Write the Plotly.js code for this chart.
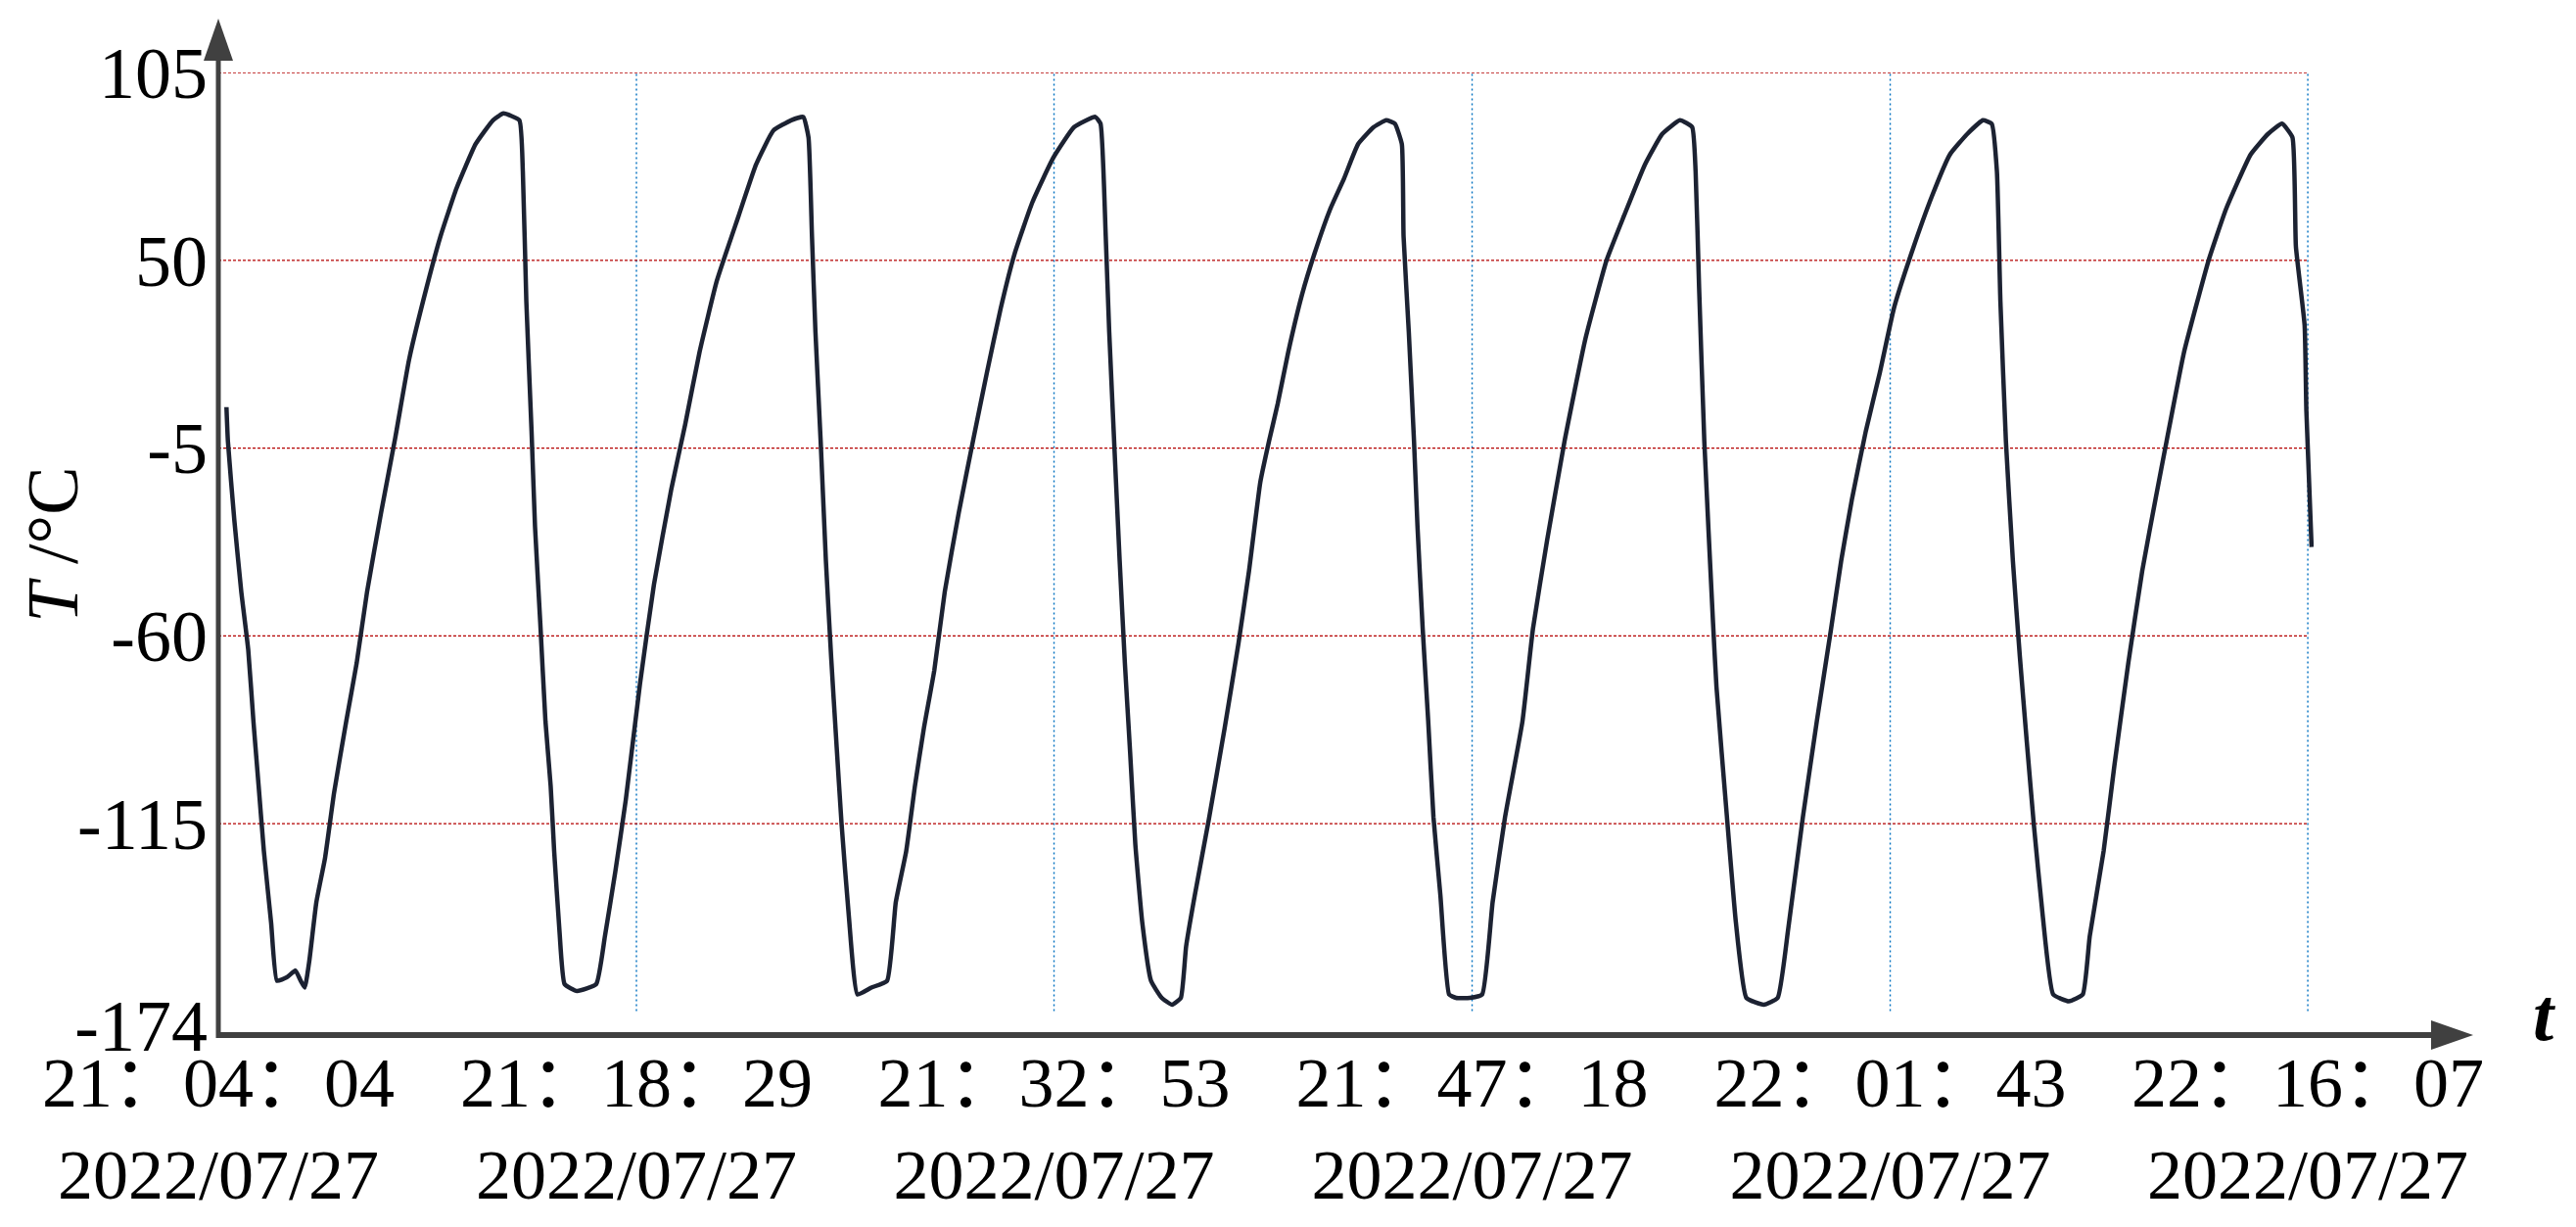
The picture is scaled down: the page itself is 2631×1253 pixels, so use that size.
<!DOCTYPE html>
<html>
<head>
<meta charset="utf-8">
<script src="https://cdn.plot.ly/plotly-3.0.1.min.js"></script>
<style>
  html, body { margin: 0; padding: 0; background: #fff; }
  #chart { width: 2631px; height: 1253px; }
</style>
</head>
<body>
<div id="chart"></div>
<script>
// Temperature record, minutes after 21:04:04 on 2022/07/27
const tMin = [
  0.28, 0.33, 0.55, 0.79, 1.03, 1.21, 1.39, 1.57, 1.82, 2.02,
  2.36, 2.66, 2.84, 2.98, 3.14, 3.38, 3.68, 3.99, 4.41, 4.77,
  5.13, 5.61, 6.10, 6.58, 7.18, 7.66, 8.21, 8.87, 9.47, 9.83,
  10.38, 10.50, 10.62, 10.80, 10.92, 11.10, 11.28, 11.46, 11.58, 11.76,
  11.94, 12.37, 13.03, 13.33, 13.69, 14.05, 14.54, 15.02, 15.62, 16.10,
  16.59, 17.19,
  17.94, 18.54, 19.14, 19.75, 20.17, 20.35, 20.47, 20.59, 20.77, 20.95,
  21.13, 21.31, 21.49, 21.74, 22.04, 22.52, 23.06, 23.36, 23.72, 24.02,
  24.33, 24.69, 25.05, 25.53, 26.02, 26.50, 26.98, 27.46, 28.07, 28.79,
  29.51, 30.24, 30.42, 30.60, 30.72, 30.90, 31.08, 31.26, 31.44, 31.62,
  31.86, 32.16, 32.53, 32.89, 33.19, 33.37, 33.67, 34.15, 34.70, 35.18,
  35.54,
  35.93, 36.23, 36.53, 36.89, 37.37, 37.80, 38.34, 38.82, 39.30, 39.84,
  40.27, 40.57, 40.81, 40.87, 41.05, 41.23, 41.35, 41.53, 41.72, 41.90,
  42.14, 42.44, 42.68, 43.16, 43.58, 43.94, 44.37, 44.97, 45.33, 45.82,
  46.42, 47.14, 47.87, 48.47, 49.19, 49.79, 50.40, 50.82, 50.94, 51.06,
  51.24, 51.54, 51.66, 52.02, 52.33, 52.69, 53.29, 53.77, 54.13,
  54.64, 55.12, 55.61, 55.96, 56.33, 56.81, 57.29, 57.78, 58.38, 59.10,
  59.71, 60.31, 60.85, 61.15, 61.33, 61.45, 61.64, 61.88, 62.12, 62.36,
  62.60, 62.91, 63.27, 63.81, 64.29, 64.53, 65.01, 65.38, 65.86, 66.34,
  66.82, 67.18, 67.78, 68.63, 69.23, 70.08, 70.68, 71.16, 71.52, 71.64,
  71.94, 72.00, 72.18
];
const tempC = [
  7, -3, -26, -47, -64, -85, -104, -123, -144, -161,
  -160, -158, -161, -163, -155, -138, -125, -106, -85, -68,
  -47, -24, -2, 21, 42, 57, 71, 84, 91, 93,
  91, 76, 38, 0, -28, -56, -85, -104, -123, -146,
  -162, -164, -162, -148, -129, -108, -74, -45, -17, 2,
  23, 44,
  63, 78, 88, 91, 92, 86, 57, 29, -3, -38,
  -66, -91, -115, -142, -165, -163, -161, -138, -123, -104,
  -87, -70, -47, -24, -3, 17, 36, 52, 67, 80,
  89, 92, 90, 57, 29, -5, -38, -68, -94, -121,
  -144, -161, -166, -168, -166, -151, -136, -114, -87, -62,
  -41,
  -15, -3, 8, 23, 40, 52, 65, 74, 84, 89,
  91, 90, 84, 57, 29, -3, -28, -58, -85, -113,
  -136, -165, -166, -166, -165, -138, -113, -85, -58, -32,
  -3, 27, 50, 63, 78, 87, 91, 89, 76, 42,
  -3, -56, -75, -113, -144, -166, -168, -166, -146,
  -113, -85, -58, -38, -20, 0, 17, 36, 52, 69,
  81, 87, 91, 90, 76, 38, -3, -38, -66, -91,
  -115, -142, -165, -167, -165, -148, -123, -98, -68, -41,
  -19, -3, 23, 50, 65, 81, 87, 90, 86, 54,
  31, 6, -34
];

const tickTimes = ['21:04:04', '21:18:29', '21:32:53', '21:47:18', '22:01:43', '22:16:07'];
const tickDate = '2022/07/27';
const yTicks = [105, 50, -5, -60, -115, -174];

const FONT_FAMILY = '"Liberation Serif", "Times New Roman", "Noto Sans CJK SC", serif';
const W = 2631, H = 1253;
const MARGIN = {l: 223, r: 268, t: 74, b: 196, pad: 0};
const AXIS_COLOR = '#404040';

function toMin(s) {
  const p = s.split(':').map(Number);
  return p[0] * 60 + p[1] + p[2] / 60;
}
const t0 = toMin(tickTimes[0]);
const tickVals = tickTimes.map(s => toMin(s) - t0);
const tickText = tickTimes.map(s => s.split(':').join('：') + '<br>' + tickDate);

const lastTick = tickVals[tickVals.length - 1];

const shapes = [];
// horizontal red grid, stops at the last time tick
yTicks.slice(0, -1).forEach(v => shapes.push({
  type: 'line', layer: 'below', xref: 'x', yref: 'y',
  x0: 0, x1: lastTick, y0: v, y1: v,
  line: {color: '#b40000', width: 1.3, dash: '3px,2px'}
}));
// vertical blue grid
tickVals.slice(1).forEach(v => shapes.push({
  type: 'line', layer: 'below', xref: 'x', yref: 'paper',
  x0: v, x1: v, y0: 0.025, y1: 1,
  line: {color: '#0070c0', width: 1.4, dash: '2px,3px'}
}));
// axes with arrow heads
shapes.push(
  {type: 'line', xref: 'paper', yref: 'paper', ysizemode: 'pixel', yanchor: 0,
   x0: 0, x1: 0, y0: -3, y1: 995, line: {color: AXIS_COLOR, width: 5}},
  {type: 'path', xref: 'paper', yref: 'paper', xsizemode: 'pixel', ysizemode: 'pixel',
   xanchor: 0, yanchor: 1, path: 'M -15,12 L 15,12 L 0,55 Z',
   fillcolor: AXIS_COLOR, line: {width: 0}},
  {type: 'line', xref: 'paper', yref: 'paper', xsizemode: 'pixel', xanchor: 0,
   x0: -2, x1: 2262, y0: 0, y1: 0, line: {color: AXIS_COLOR, width: 6}},
  {type: 'path', xref: 'paper', yref: 'paper', xsizemode: 'pixel', ysizemode: 'pixel',
   xanchor: 1, yanchor: 0, path: 'M 120,15 L 120,-15 L 163,0 Z',
   fillcolor: AXIS_COLOR, line: {width: 0}}
);

const traces = [{
  x: tMin,
  y: tempC,
  type: 'scatter',
  mode: 'lines',
  line: {color: '#1c2232', width: 4.5, shape: 'spline', smoothing: 0.4},
  hoverinfo: 'x+y',
  cliponaxis: false,
}];

const layout = {
  width: W,
  height: H,
  margin: MARGIN,
  paper_bgcolor: '#fff',
  plot_bgcolor: '#fff',
  showlegend: false,
  font: {family: FONT_FAMILY, color: '#000', size: 72},
  xaxis: {
    range: [0, 72.25],
    tickmode: 'array',
    tickvals: tickVals,
    ticktext: tickText,
    tickfont: {family: FONT_FAMILY, size: 72, color: '#000'},
    ticks: '',
    showgrid: false,
    zeroline: false,
    showline: false,
    fixedrange: true,
  },
  yaxis: {
    range: [-176.9, 105],
    tickmode: 'array',
    tickvals: yTicks,
    ticktext: yTicks.map(String),
    tickfont: {family: FONT_FAMILY, size: 74, color: '#000'},
    ticks: '',
    ticklabelstandoff: 10,
    showgrid: false,
    zeroline: false,
    showline: false,
    fixedrange: true,
  },
  shapes: shapes,
  annotations: [
    {
      // y axis title
      xref: 'paper', yref: 'paper', x: 0, y: 0.509,
      xshift: -169, xanchor: 'center', yanchor: 'middle',
      textangle: -90,
      text: '<i>T</i> /°C',
      showarrow: false,
      font: {family: FONT_FAMILY, size: 74, color: '#000'},
    },
    {
      // x axis title beside the arrow
      xref: 'paper', yref: 'paper', x: 1, y: 0,
      xshift: 236, yshift: 21,
      xanchor: 'center', yanchor: 'middle',
      text: '<b><i>t</i></b>',
      showarrow: false,
      font: {family: FONT_FAMILY, size: 76, color: '#000'},
    },
  ],
};

Plotly.newPlot('chart', traces, layout, {displayModeBar: false, staticPlot: true});
</script>
</body>
</html>
